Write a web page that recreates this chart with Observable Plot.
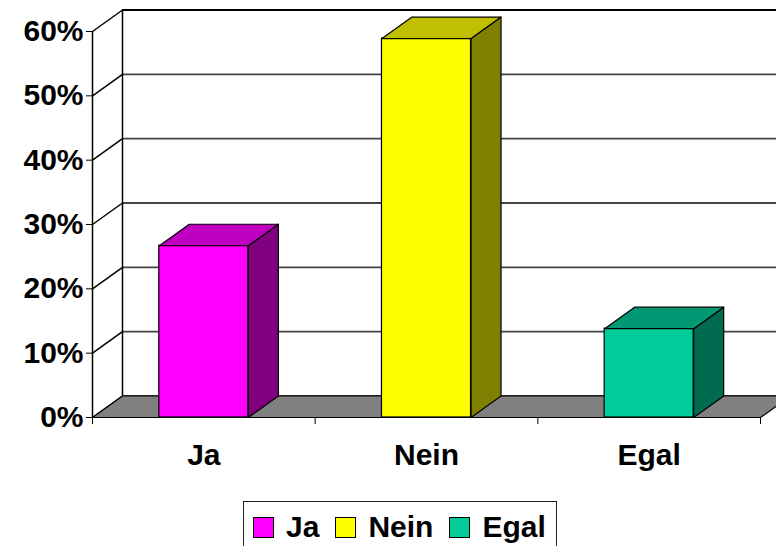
<!DOCTYPE html>
<html>
<head>
<meta charset="utf-8">
<script src="https://cdn.jsdelivr.net/npm/d3@7"></script>
<script src="https://cdn.jsdelivr.net/npm/@observablehq/plot@0.6"></script>
<style>
  html, body { margin: 0; padding: 0; background: #fff; }
  body { width: 776px; height: 546px; overflow: hidden; position: relative; font-family: "Liberation Sans", Arial, sans-serif; }
  #chart { position: absolute; left: 0; top: 0; }
  #legend { position: absolute; left: 243px; top: 501px; width: 314px; height: 52px; border: 1.5px solid #222; box-sizing: border-box;
            display: flex; align-items: center; padding-left: 9px; font-weight: bold; font-size: 30px; color: #000; }
  .item { display: flex; align-items: center; margin-right: 16px; }
  .sw { width: 19px; height: 19px; border: 1px solid #000; margin-right: 12px; }
</style>
</head>
<body>
<div id="chart"></div>
<div id="legend"></div>
<script>
const categories = ["Ja", "Nein", "Egal"];
const values = [26.7, 58.9, 13.8];
const frontColors = ["#ff00ff", "#ffff00", "#00cc99"];
const topColors = ["#c000c0", "#c0c000", "#009973"];
const sideColors = ["#800080", "#808000", "#006b4f"];
const yTicks = [0, 10, 20, 30, 40, 50, 60];
const yTickLabels = ["0%", "10%", "20%", "30%", "40%", "50%", "60%"];

const W = 776, H = 495;
const mL = 92, mR = 16, mT = 31, mB = H - 417;
const bandPx = (W - mL - mR) / categories.length;
const pxPerUnit = (H - mT - mB) / 60;
const d = 30 / bandPx;       // depth in x units
const e = 21.5 / pxPerUnit;  // depth in y units
const hw = 0.2;              // bar half width in x units
const x0 = -0.5, x1 = categories.length - 0.5;

// polygons
const polys = [];
function poly(id, fill, pts) { pts.concat([pts[0]]).forEach(p => polys.push({id, fill, x: p[0], y: p[1]})); }
poly("floor", "#808080", [[x0, 0], [x1, 0], [x1 + d, e], [x0 + d, e]]);
values.forEach((v, i) => {
  poly("side" + i, sideColors[i], [[i + hw, 0], [i + hw, v], [i + hw + d, v + e], [i + hw + d, e]]);
  poly("top" + i, topColors[i], [[i - hw, v], [i + hw, v], [i + hw + d, v + e], [i - hw + d, v + e]]);
});
const floorPolys = polys.filter(p => p.id === "floor");
const barPolys = polys.filter(p => p.id !== "floor");
const bars = values.map((v, i) => ({i, v, fill: frontColors[i]}));

const font = {fontSize: 30, fontWeight: "bold", fontFamily: "'Liberation Sans', Arial, sans-serif"};

const chart = Plot.plot({
  width: W, height: H,
  marginLeft: mL, marginRight: mR, marginTop: mT, marginBottom: mB,
  x: {type: "linear", domain: [x0, x1], label: null},
  y: {type: "linear", domain: [0, 60], label: null},
  color: {type: "identity"},
  style: {background: "#fff", color: "#000", overflow: "visible"},
  marks: [
    // back wall gridlines
    Plot.ruleY(yTicks.map(t => t + e), {x1: x0 + d, x2: x1 + d, stroke: (t) => t >= 60 ? "#000" : "#444", strokeWidth: 1.8}),
    // left wall slanted lines
    Plot.link(yTicks, {x1: x0, y1: t => t, x2: x0 + d, y2: t => t + e, stroke: "#000", strokeWidth: 1.5}),
    // back wall left vertical
    Plot.ruleX([x0 + d], {y1: e, y2: 60 + e, stroke: "#000", strokeWidth: 1.5}),
    // front axis line
    Plot.ruleX([x0], {y1: 0, y2: 60, stroke: "#000", strokeWidth: 1.5}),
    // floor
    Plot.line(floorPolys, {x: "x", y: "y", z: "id", fill: "fill", stroke: "#000", strokeWidth: 1.2}),
    // bars
    Plot.rect(bars, {x1: b => b.i - hw, x2: b => b.i + hw, y1: 0, y2: "v", fill: "fill", stroke: "#000", strokeWidth: 1.2}),
    Plot.line(barPolys, {x: "x", y: "y", z: "id", fill: "fill", stroke: "#000", strokeWidth: 1.2, strokeLinejoin: "round"}),
    // axes
    Plot.axisY({ticks: yTicks, tickFormat: (t) => yTickLabels[yTicks.indexOf(t)], tickSize: 6, tickPadding: 3, label: null, ...font}),
    Plot.axisX({ticks: d3.range(categories.length + 1).map(k => k - 0.5), tickSize: 7, tickFormat: () => "", label: null}),
    Plot.axisX({ticks: d3.range(categories.length), tickSize: 0, tickPadding: 26, tickFormat: (k) => categories[k], label: null, ...font})
  ]
});
document.getElementById("chart").appendChild(chart);

const leg = document.getElementById("legend");
categories.forEach((c, i) => {
  const it = document.createElement("div");
  it.className = "item";
  const sw = document.createElement("div");
  sw.className = "sw";
  sw.style.background = frontColors[i];
  const tx = document.createElement("span");
  tx.textContent = c;
  it.appendChild(sw); it.appendChild(tx);
  leg.appendChild(it);
});
</script>
</body>
</html>
